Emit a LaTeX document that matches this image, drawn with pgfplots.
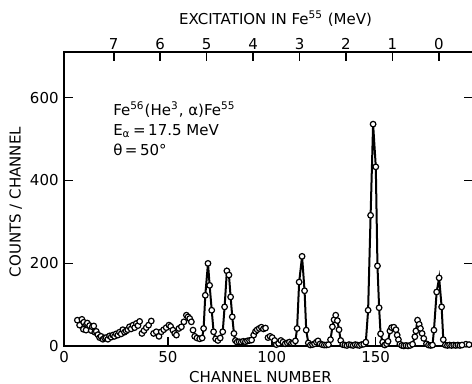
\documentclass[border=0pt]{standalone}
\usepackage{fontspec}
\setmainfont{DejaVu Sans}
\usepackage{pgfplots}
\pgfplotsset{compat=1.18}
\begin{document}
\fontsize{7.5pt}{9pt}\selectfont
\begin{tikzpicture}
\begin{axis}[
  scale only axis, width=204.4pt, height=147pt,
  xmin=0, xmax=197, ymin=0, ymax=710,
  xtick={0,50,100,150}, xtick pos=bottom,
  ytick={0,200,400,600}, ytick pos=both,
  tick align=inside, major tick length=4.5pt,
  axis line style={line width=1pt},
  tick style={line width=0.8pt, black},
  /pgf/number format/assume math mode=true,
  ticklabel style={font=\fontsize{7.5pt}{9pt}\selectfont},
  xlabel={CHANNEL NUMBER}, ylabel={COUNTS / CHANNEL},
  xlabel style={at={(axis description cs:0.48,-0.105)}, anchor=center},
  ylabel style={at={(axis description cs:-0.118,0.49)}, anchor=center},
]
% scattered low-energy region (points only)
\addplot[only marks, mark=*, mark size=1.4pt, mark options={fill=white, draw=black, line width=0.6pt}] coordinates {
(6.4,63)(7.5,51)(8.6,65)(9.3,41)(9.5,58)(10.6,39)(10.8,53)(11.2,56)(12.3,50)(13.1,38)(13.6,47)(14.3,49)(14.8,34)(15.5,36)(16.3,28)(17.1,21)(17.8,24)(18.7,17)(19.5,20)(20.3,21)(21.1,17)(21.9,25)(22.7,22)(23.5,27)(24.3,24)(25.1,30)(25.9,27)(26.7,34)(27.5,30)(28.3,40)(29.1,34)(29.9,37)(30.7,40)(31.5,47)(32.3,42)(33.2,51)(34,45)(34.8,55)(35.6,50)(36.4,60)
(37.5,31)(38.5,38)(39.6,45)(40.7,51)(42,61)(43.1,31)(44.4,35)(45.7,24)(46.8,35)(48,40)(49.2,45)(50.5,51)(51.3,48)(52.4,39)(53.3,31)(54.1,27)(55.3,43)(56.5,47)(57.7,59)(58.9,75)(59.7,71)(60.5,67)(61.3,59)(62.1,39)(62.9,24)(64,20)(65.3,18)
(91.3,27)(92.2,36)(93,40)(94,43)(95,46)(96,42)(97,44)(98.2,21)(99.2,24)(100.2,21)(101.4,14)
(193.5,5)(195,4)
};
% connected peaks
\addplot[black, line width=1pt, mark=*, mark size=1.4pt, mark options={fill=white, draw=black, line width=0.6pt, solid}] coordinates {
(66.5,20)(67.2,43)(68,123)(69.3,200)(70.1,147)(71.1,87)(72,35)(73,18)(74.1,14)(75.2,20)(76.4,35)(77.3,95)(78.4,182)(79.4,172)(80.2,119)(81,71)(81.8,31)(82.5,14)(83.3,10)(84.3,11)(85.3,10)(86.3,12)(87.3,11)(88.3,13)(89.3,14)(90.3,15)
};
\addplot[black, line width=1pt, mark=*, mark size=1.4pt, mark options={fill=white, draw=black, line width=0.6pt, solid}] coordinates {
(102.2,4)(103.3,7)(104.4,14)(105.4,10)(106.5,6)(107.5,8)(108.5,10)(109.5,7)(110.4,8)(111.4,13)(112.2,43)(113.2,155)(114.6,217)(115.8,134)(116.6,39)(117.6,8)(118.6,3)(119.6,4)(120.6,6)(121.5,10)(122.3,13)(123.3,6)(124.3,4)(125.3,3)(126.3,3)(127.3,4)(128.3,16)(129.2,47)(130,64)(130.8,75)(131.6,62)(132.4,40)(133.2,14)(134.2,4)(135.2,3)(136.2,2)(137.2,4)(138.2,3)(139.2,2)(140.2,4)(141.2,3)(142.2,2)(143.2,4)(144.3,5)(145.3,10)(146.4,87)(147.6,316)(148.8,536)(150.1,433)(150.9,194)(151.7,93)(152.4,30)(153.4,10)(154.4,3)(155.3,6)(156,12)(156.9,37)(157.7,45)(158.8,46)(159.8,40)(160.4,27)(161,16)(161.7,5)(162.6,2)(163.6,1)(164.6,2)(165.6,1)(166.6,2)(167.8,5)(168.9,23)(169.4,37)(170.2,63)(171,53)(171.6,43)(172.4,31)(173.2,19)(174.5,6)(175.5,3)(176.5,2)(177.4,3)(178.1,39)(179.4,131)(180.6,165)(181.8,95)(182.6,16)(183.6,3)(184.6,2)(185.6,3)(186.6,2)(187.6,3)(188.6,2)(189.6,3)(190.6,2)(191.6,3)
};
\node[anchor=north west, align=left, inner sep=0pt, font=\fontsize{7.5pt}{10pt}\selectfont] at (axis cs:23.5,592)
  {Fe\textsuperscript{56}(He\textsuperscript{3}, α)Fe\textsuperscript{55}\\E\textsubscript{α}\,=\,17.5 MeV\\θ\,=\,50°};
\end{axis}
\begin{axis}[
  scale only axis, width=204.4pt, height=147pt,
  xmin=-0.738, xmax=8.069, x dir=reverse, ymin=0, ymax=1,
  axis x line*=top, axis y line=none,
  xtick={0,1,2,3,4,5,6,7},
  tick align=inside, major tick length=4.5pt,
  axis line style={line width=1pt},
  tick style={line width=0.8pt, black},
  /pgf/number format/assume math mode=true,
  ticklabel style={font=\fontsize{7.5pt}{9pt}\selectfont},
  xticklabel style={yshift=-1.5pt},
  xlabel={EXCITATION IN Fe\textsuperscript{55} (MeV)},
  xlabel style={at={(axis description cs:0.517,1.112)}, anchor=center},
]
\addplot[draw=none] coordinates {(0,0.5)};
\end{axis}
\pgfresetboundingbox
\path[use as bounding box] (-32pt,-18.5pt) rectangle (203.8pt,173pt);
\end{tikzpicture}
\end{document}
